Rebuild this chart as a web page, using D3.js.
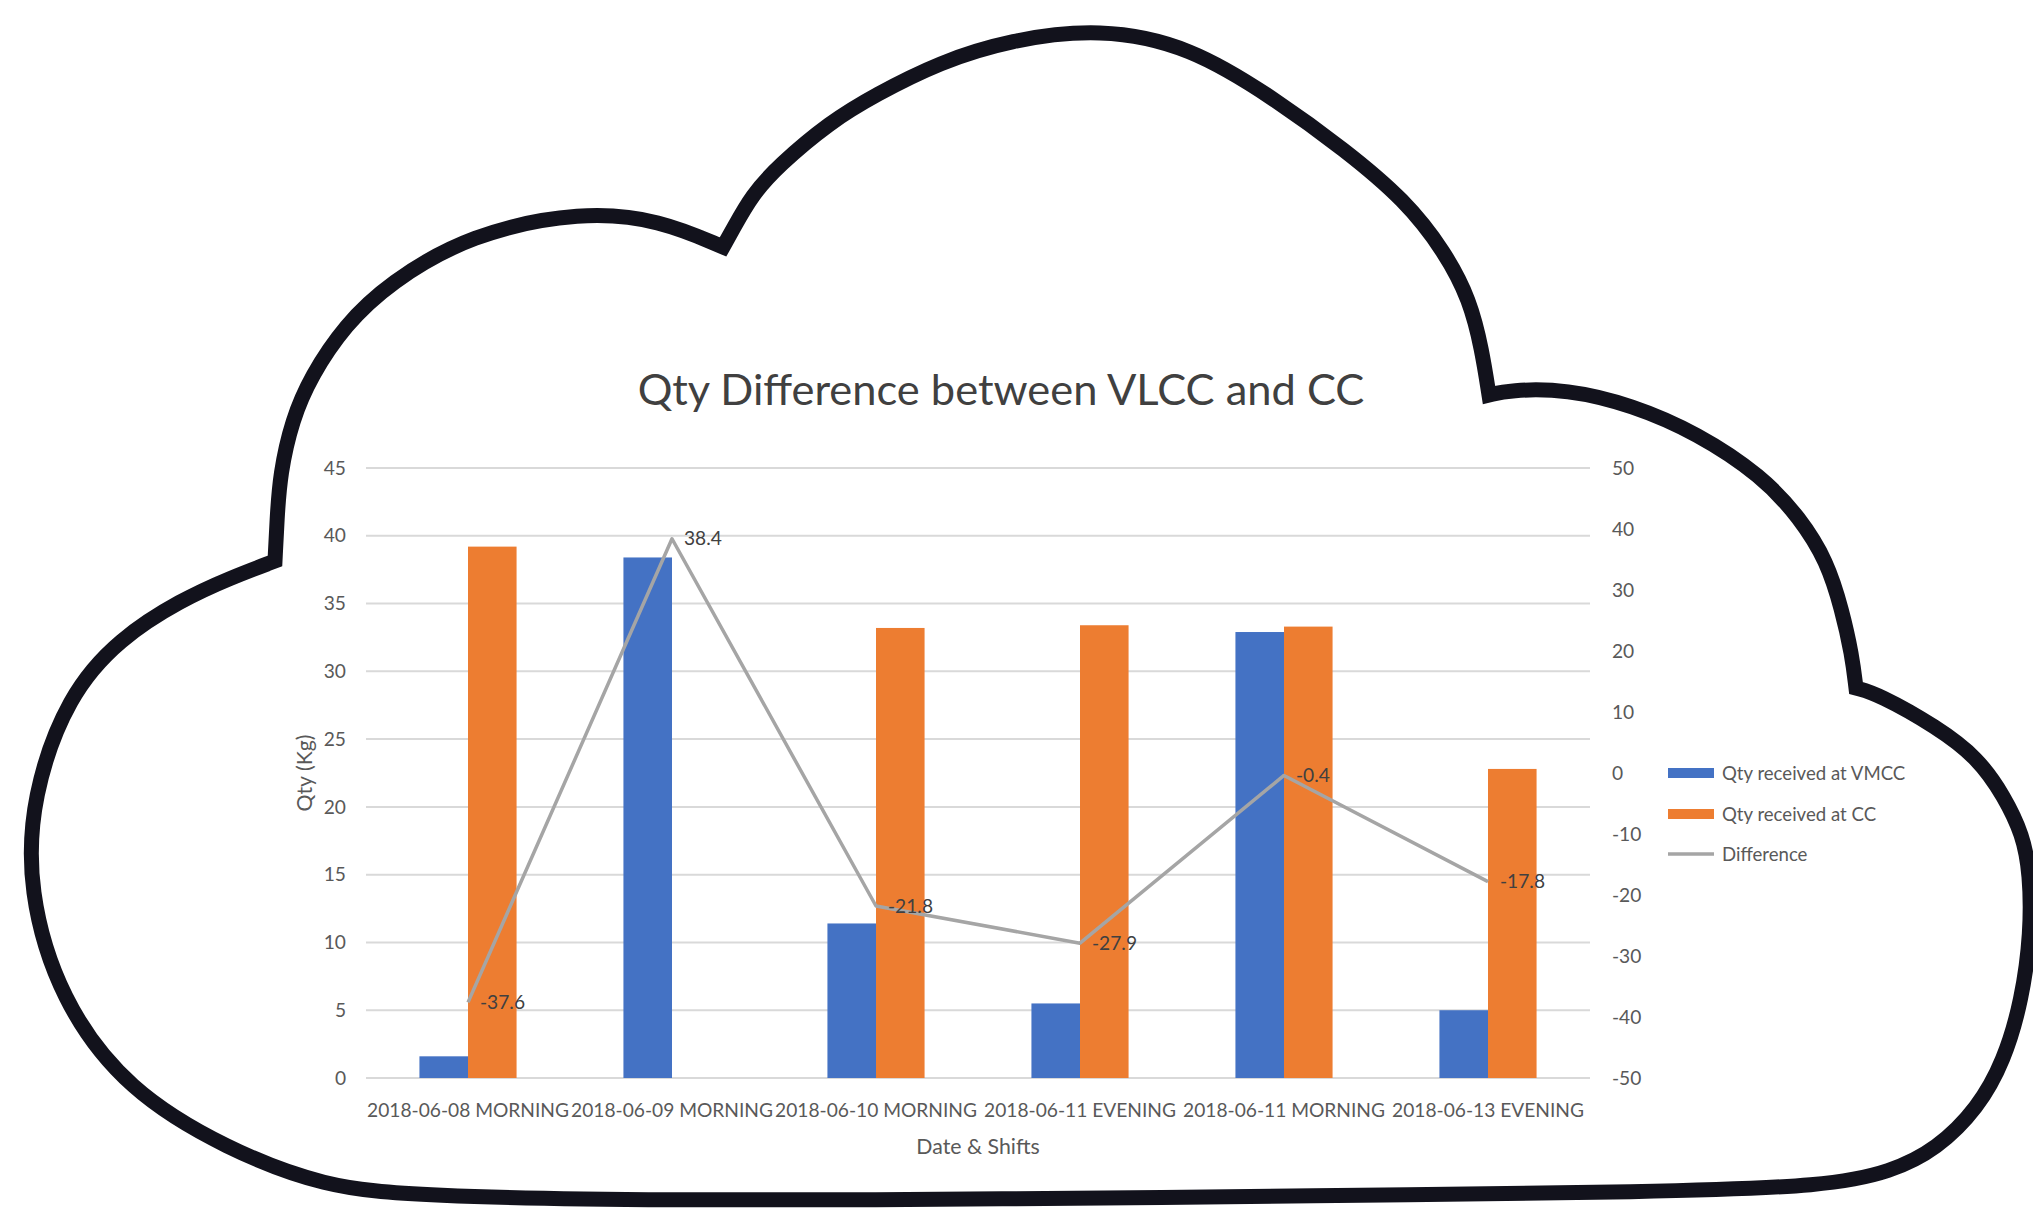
<!DOCTYPE html>
<html>
<head>
<meta charset="utf-8">
<script src="https://cdn.jsdelivr.net/npm/d3@7/dist/d3.min.js"></script>
<style>
  html, body { margin: 0; padding: 0; background: #ffffff; }
  svg { display: block; }
  text { font-family: Lato, "Open Sans", sans-serif; }
</style>
</head>
<body>
<svg id="chart" width="2033" height="1213"></svg>
<script>
// ---- data ----
const categories = [
  "2018-06-08 MORNING",
  "2018-06-09 MORNING",
  "2018-06-10 MORNING",
  "2018-06-11 EVENING",
  "2018-06-11 MORNING",
  "2018-06-13 EVENING"
];
const qtyVMCC = [1.6, 38.4, 11.4, 5.5, 32.9, 5.0];
const qtyCC = [39.2, 0, 33.2, 33.4, 33.3, 22.8];
const difference = [-37.6, 38.4, -21.8, -27.9, -0.4, -17.8];
const seriesNames = ["Qty received at VMCC", "Qty received at CC", "Difference"];
const leftTicks = [0, 5, 10, 15, 20, 25, 30, 35, 40, 45];
const rightTicks = [-50, -40, -30, -20, -10, 0, 10, 20, 30, 40, 50];
const titleText = "Qty Difference between VLCC and CC";
const xTitle = "Date & Shifts";
const yTitle = "Qty (Kg)";

// ---- style ----
const colors = { vmcc: "#4472c4", cc: "#ed7d31", diff: "#a5a5a5" };
const fontFamily = "Lato, 'Open Sans', sans-serif";
const hyphenNum = d => String(d);             // plain hyphen-minus for negatives
const oneDecimal = d => d.toFixed(1);
const svg = d3.select("#chart");

// ---- cloud outline: four smooth lobes meeting at sharp inward cusps ----
const lobes = [
  [[723,247],[733,229],[752,195],[778,166],[830,122],[875,95],[940,62],[1010,40],[1100,28],[1190,46],[1275,99],[1345,150],[1405,200],[1445,252],[1470,300],[1482,350],[1489,395]],
  [[1489,395],[1509,390],[1567,389],[1632,405],[1697,433],[1762,476],[1800,518],[1827,561],[1842,610],[1852,655],[1856,688]],
  [[1856,688],[1878,694],[1937,727],[1978,758],[2004,796],[2023,835],[2030,874],[2031,932],[2022,1000],[2004,1061],[1978,1108],[1937,1149],[1891,1172],[1827,1186],[1664,1192],[1300,1196],[1016,1199],[648,1201],[420,1196],[324,1187],[227,1149],[128,1091],[60,1000],[28,890],[32,796],[68,695],[120,638],[181,600],[230,578],[275,561]],
  [[275,561],[277,520],[280,474],[292,420],[311,376],[345,325],[389,283],[470,234],[583,211],[660,220],[723,247]]
];
const lobeLine = d3.line().curve(d3.curveBasis);
const cloudD = lobes.map((pts, i) => {
  const d = lobeLine(pts);
  return i === 0 ? d : d.replace(/^M/, "L");
}).join("") + "Z";
svg.append("path")
  .attr("d", cloudD)
  .attr("fill", "#ffffff")
  .attr("stroke", "#12121c")
  .attr("stroke-width", 15)
  .attr("stroke-linejoin", "miter")
  .attr("stroke-miterlimit", 20);

// ---- plot area ----
const plot = { left: 366, right: 1590, top: 468, bottom: 1078 };

const x0 = d3.scaleBand().domain(categories).range([plot.left, plot.right]).padding(0);
const x1 = d3.scaleBand().domain(["vmcc", "cc"]).range([0, x0.bandwidth()])
  .paddingInner(0).paddingOuter(1.1);
const yLeft = d3.scaleLinear().domain([0, 45]).range([plot.bottom, plot.top]);
const yRight = d3.scaleLinear().domain([-50, 50]).range([plot.bottom, plot.top]);

// font sizing: fit a reference label to its span, reuse for the small text
function fitSize(text, target, base) {
  const t = svg.append("text").attr("font-size", base).text(text);
  const w = t.node().getComputedTextLength();
  t.remove();
  return base * target / w;
}
const small = fitSize("2018-06-13 EVENING", 192, 20);
const titleSize = fitSize(titleText, 727, 40);
const axisTitleSize = small * 1.11;

// gridlines
svg.append("g").selectAll("line").data(leftTicks).join("line")
  .attr("x1", plot.left).attr("x2", plot.right)
  .attr("y1", d => yLeft(d)).attr("y2", d => yLeft(d))
  .attr("stroke", "#d9d9d9").attr("stroke-width", 2);

// left axis
const gL = svg.append("g").attr("transform", `translate(${plot.left},0)`)
  .call(d3.axisLeft(yLeft).tickValues(leftTicks).tickFormat(hyphenNum).tickSize(0).tickPadding(20));
gL.select(".domain").remove();
gL.selectAll("text").attr("font-size", small).attr("fill", "#595959")
  .attr("font-family", fontFamily);

// right axis
const gR = svg.append("g").attr("transform", `translate(${plot.right},0)`)
  .call(d3.axisRight(yRight).tickValues(rightTicks).tickFormat(hyphenNum).tickSize(0).tickPadding(22));
gR.select(".domain").remove();
gR.selectAll("text").attr("font-size", small).attr("fill", "#595959")
  .attr("font-family", fontFamily);

// x axis labels
const gX = svg.append("g").attr("transform", `translate(0,${plot.bottom})`)
  .call(d3.axisBottom(x0).tickSize(0).tickPadding(25));
gX.select(".domain").remove();
gX.selectAll("text").attr("font-size", small).attr("fill", "#595959")
  .attr("font-family", fontFamily);

// bars
const rows = categories.map((c, i) => ({ cat: c, vmcc: qtyVMCC[i], cc: qtyCC[i] }));
svg.append("g").selectAll("g").data(rows).join("g")
  .attr("transform", d => `translate(${x0(d.cat)},0)`)
  .selectAll("rect")
  .data(d => [{ key: "vmcc", v: d.vmcc }, { key: "cc", v: d.cc }])
  .join("rect")
  .attr("x", d => x1(d.key))
  .attr("width", x1.bandwidth())
  .attr("y", d => yLeft(d.v))
  .attr("height", d => yLeft(0) - yLeft(d.v))
  .attr("fill", d => colors[d.key]);

// difference line (secondary axis)
const xc = c => x0(c) + x0.bandwidth() / 2;
const diffPts = categories.map((c, i) => [xc(c), yRight(difference[i])]);
svg.append("path")
  .attr("d", d3.line()(diffPts))
  .attr("fill", "none")
  .attr("stroke", colors.diff)
  .attr("stroke-width", 3.5)
  .attr("stroke-linejoin", "round");

// data labels
svg.append("g").selectAll("text").data(categories).join("text")
  .attr("x", c => xc(c) + 12)
  .attr("y", (c, i) => yRight(difference[i]))
  .attr("dy", "0.35em")
  .attr("font-size", small)
  .attr("fill", "#404040")
  .text((c, i) => oneDecimal(difference[i]));

// title
svg.append("text")
  .attr("x", 1001).attr("y", 405)
  .attr("text-anchor", "middle")
  .attr("font-size", titleSize)
  .attr("fill", "#404040")
  .text(titleText);

// axis titles
svg.append("text")
  .attr("x", (plot.left + plot.right) / 2).attr("y", 1154)
  .attr("text-anchor", "middle")
  .attr("font-size", axisTitleSize)
  .attr("fill", "#595959")
  .text(xTitle);
svg.append("text")
  .attr("transform", `translate(305,${(plot.top + plot.bottom) / 2}) rotate(-90)`)
  .attr("text-anchor", "middle")
  .attr("dy", "0.35em")
  .attr("font-size", axisTitleSize)
  .attr("fill", "#595959")
  .text(yTitle);

// legend
const legend = svg.append("g").attr("transform", "translate(1668,773)");
const legItems = legend.selectAll("g").data(seriesNames).join("g")
  .attr("transform", (d, i) => `translate(0,${[0, 41, 81][i]})`);
legItems.each(function (d, i) {
  const g = d3.select(this);
  if (i < 2) {
    g.append("rect").attr("x", 0).attr("y", -5).attr("width", 46).attr("height", 10)
      .attr("fill", i === 0 ? colors.vmcc : colors.cc);
  } else {
    g.append("line").attr("x1", 0).attr("x2", 46).attr("y1", 0).attr("y2", 0)
      .attr("stroke", colors.diff).attr("stroke-width", 3.5);
  }
  g.append("text").attr("x", 54).attr("dy", "0.35em")
    .attr("font-size", small * 0.97).attr("fill", "#595959").text(d);
});
</script>
</body>
</html>
